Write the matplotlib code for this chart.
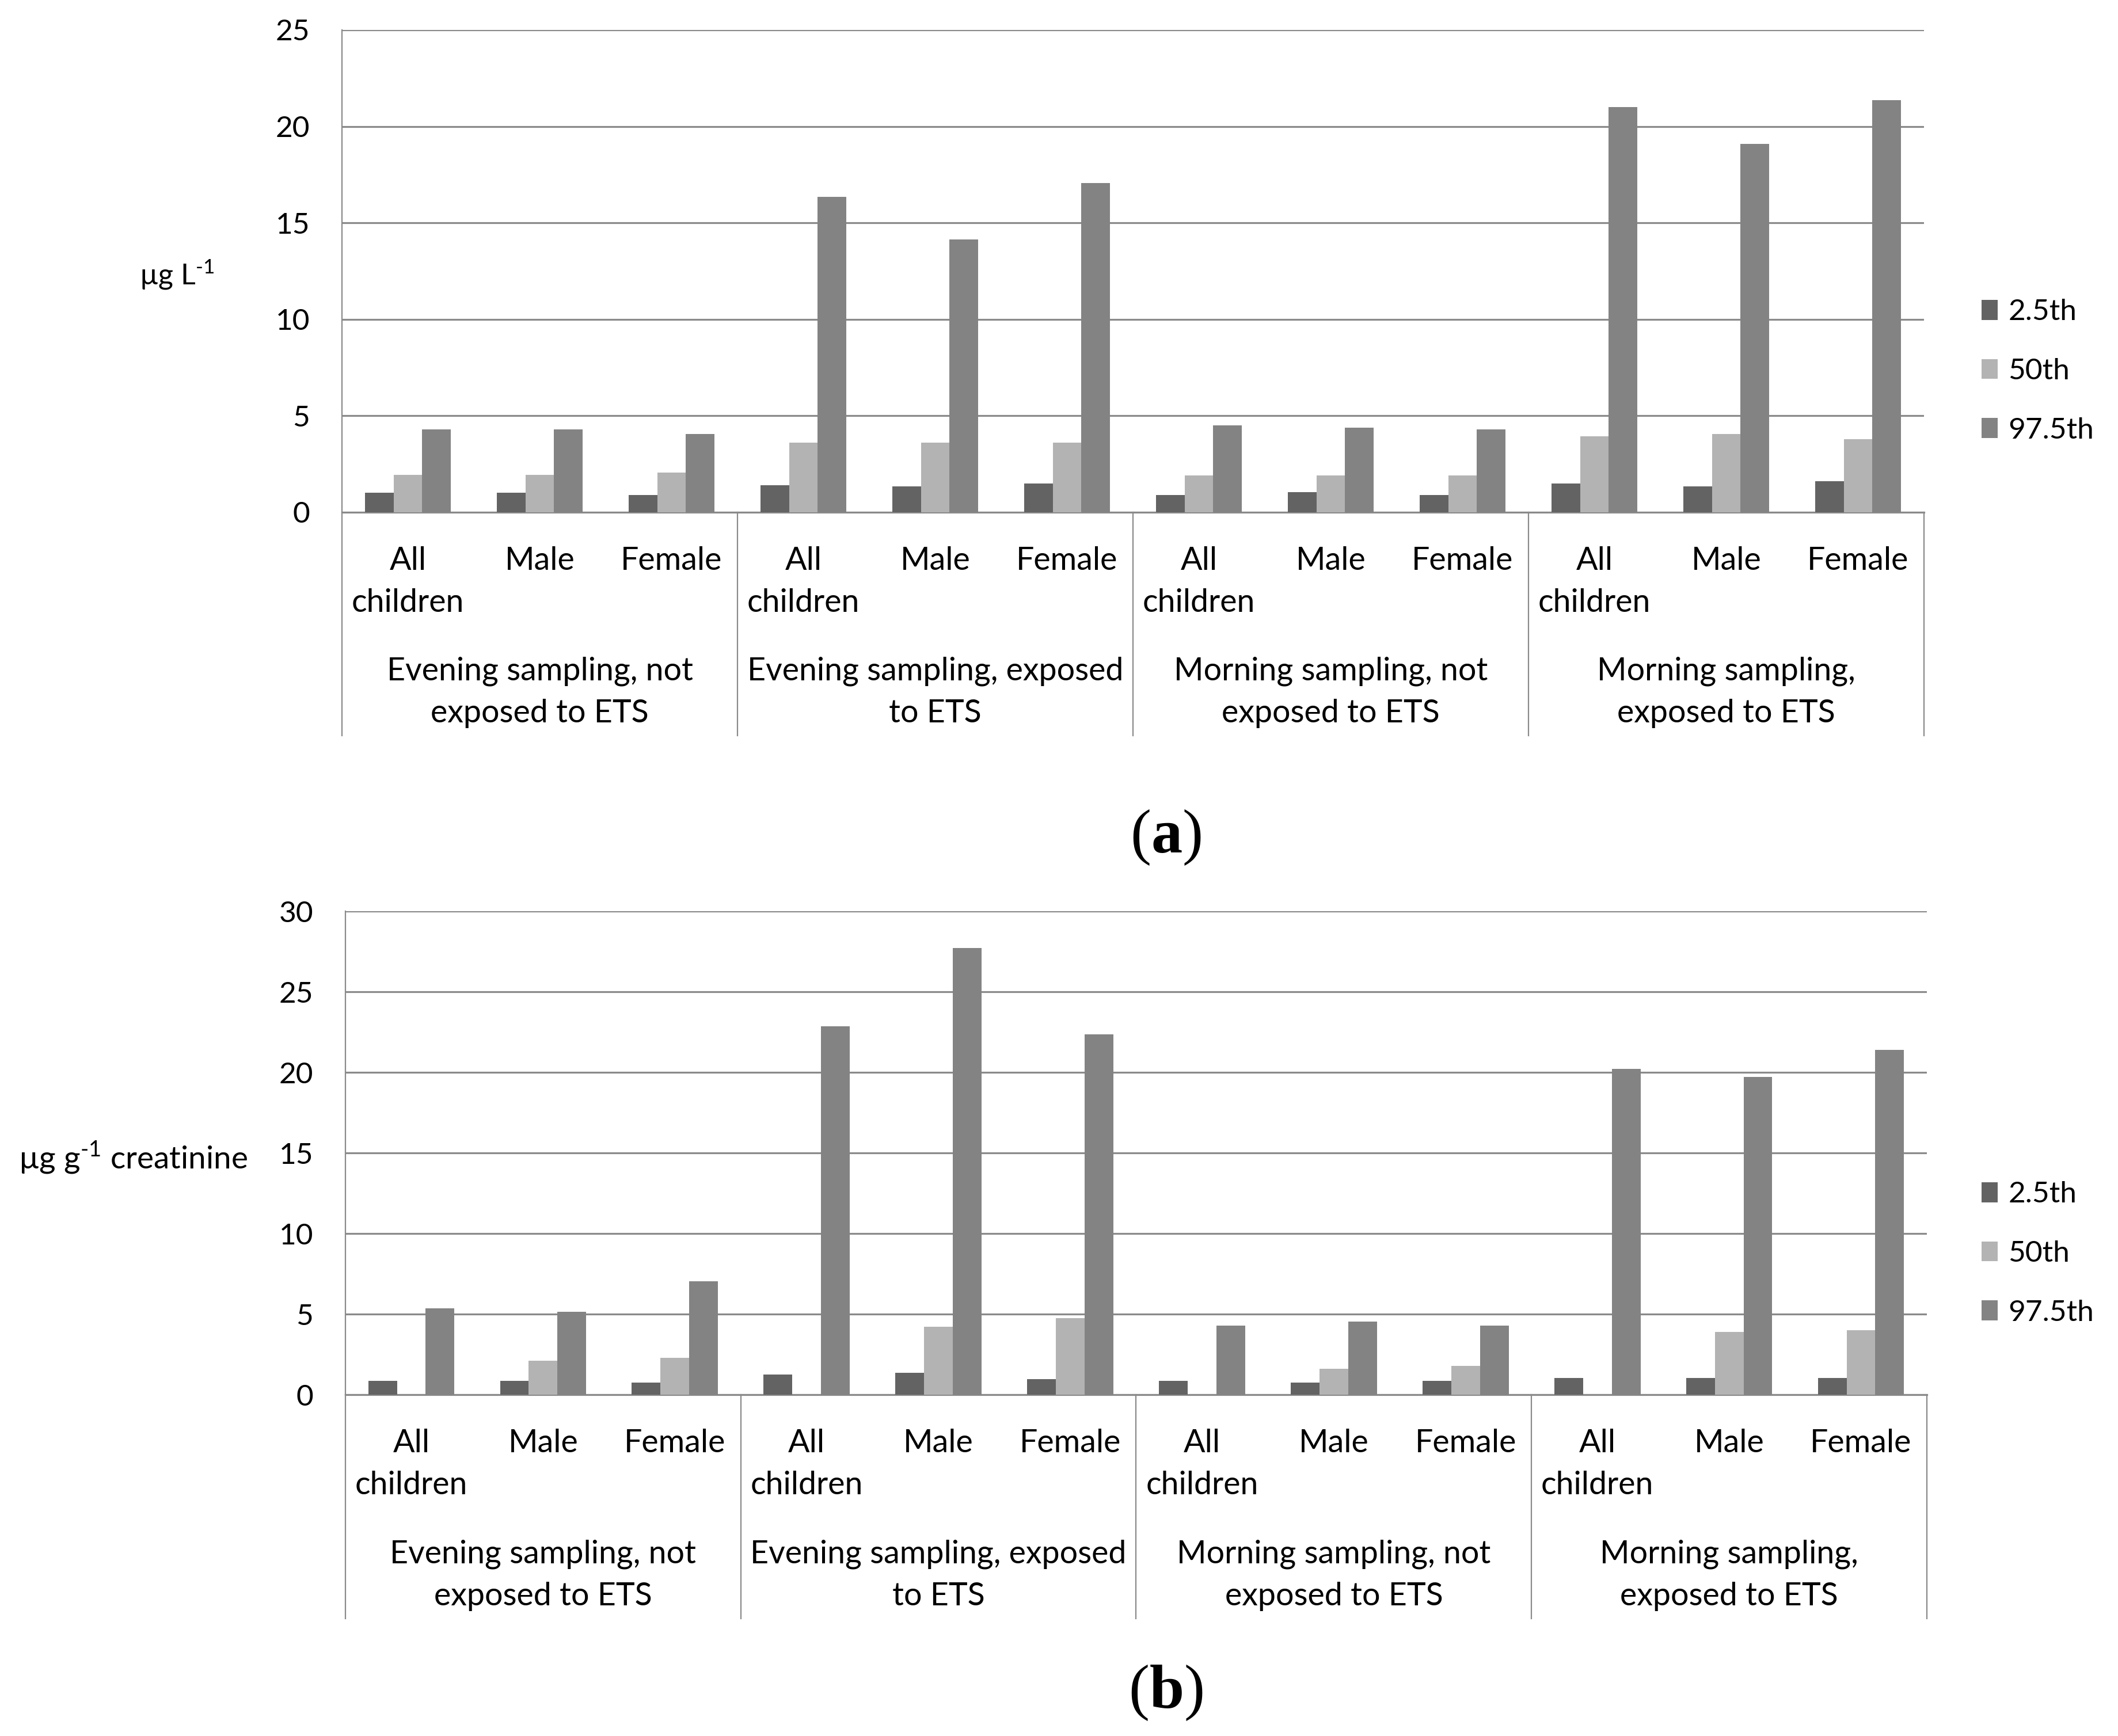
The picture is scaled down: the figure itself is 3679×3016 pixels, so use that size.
import numpy as np
import matplotlib
matplotlib.use('Agg')
import matplotlib.pyplot as plt

plt.rcParams['font.family'] = ['Lato', 'DejaVu Sans']
plt.rcParams['mathtext.fontset'] = 'custom'
plt.rcParams['mathtext.rm'] = 'Lato'
plt.rcParams['mathtext.bf'] = 'Liberation Serif:bold'

# categories
groups = [
    ('Evening sampling, not', 'exposed to ETS'),
    ('Evening sampling, exposed', 'to ETS'),
    ('Morning sampling, not', 'exposed to ETS'),
    ('Morning sampling,', 'exposed to ETS'),
]
subgroups = [('All', 'children'), ('Male',), ('Female',)]
series_names = ['2.5th', '50th', '97.5th']
series_colors = ['#636363', '#b3b3b3', '#838383']

# panel (a): ug/L
a_p025 = [1.0, 1.0, 0.9, 1.4, 1.35, 1.5, 0.9, 1.05, 0.9, 1.5, 1.35, 1.6]
a_p50 = [1.95, 1.95, 2.05, 3.6, 3.6, 3.6, 1.9, 1.9, 1.9, 3.95, 4.05, 3.8]
a_p975 = [4.3, 4.3, 4.05, 16.35, 14.15, 17.05, 4.5, 4.4, 4.3, 21.0, 19.1, 21.35]

# panel (b): ug/g creatinine (50th missing for "All children")
b_p025 = [0.85, 0.85, 0.75, 1.25, 1.35, 0.95, 0.85, 0.75, 0.85, 1.05, 1.05, 1.05]
b_p50 = [np.nan, 2.1, 2.3, np.nan, 4.2, 4.75, np.nan, 1.6, 1.8, np.nan, 3.9, 4.0]
b_p975 = [5.35, 5.15, 7.05, 22.85, 27.7, 22.35, 4.3, 4.55, 4.3, 20.2, 19.7, 21.4]

W, H = 3680, 3016
fig = plt.figure(figsize=(W / 100, H / 100), dpi=100)

GRID = '#8a8a8a'
FS = 37      # ticks and legend
FS_CAT = 40  # category labels
bw = 0.218


def draw_panel(rect, data, ymax, ylabel, ylabel_xy, ylabel_fs, legend_y, caption, caption_y):
    ax = fig.add_axes(rect)
    n = len(groups) * len(subgroups)
    x = np.arange(n)
    for i, (vals, name, col) in enumerate(zip(data, series_names, series_colors)):
        ax.bar(x + (i - 1) * bw, vals, width=bw, color=col, label=name, zorder=3)
    ax.set_xlim(-0.5, n - 0.5)
    ax.set_ylim(0, ymax)
    ax.set_yticks(np.arange(0, ymax + 1, 5))
    ax.yaxis.grid(True, color=GRID, linewidth=2.3, zorder=0)
    ax.set_axisbelow(True)
    ax.tick_params(axis='y', length=0, pad=40, labelsize=FS)
    ax.tick_params(axis='x', length=0, labelbottom=False)
    for s in ['top', 'right']:
        ax.spines[s].set_visible(False)
    ax.spines['left'].set_color(GRID)
    ax.spines['left'].set_linewidth(1.6)
    ax.spines['bottom'].set_color(GRID)
    ax.spines['bottom'].set_linewidth(2.3)

    # multi-level category axis
    tr = ax.get_xaxis_transform()
    nsub = len(subgroups)
    for k in range(len(groups) + 1):
        xb = k * nsub - 0.5
        ax.plot([xb, xb], [0, -0.463], transform=tr, color=GRID,
                linewidth=1.6, clip_on=False)
    for k, g in enumerate(groups):
        for j, s in enumerate(subgroups):
            xc = k * nsub + j
            for li, line in enumerate(s):
                ax.text(xc, [-0.1193, -0.2064][li], line, transform=tr,
                        ha='center', va='baseline', fontsize=FS_CAT)
        gc = k * nsub + (nsub - 1) / 2
        for li, line in enumerate(g):
            ax.text(gc, [-0.3484, -0.4356][li], line, transform=tr,
                    ha='center', va='baseline', fontsize=FS_CAT)

    fig.text(ylabel_xy[0], ylabel_xy[1], ylabel, ha='left', va='baseline',
             fontsize=ylabel_fs)
    ax.legend(loc='center left', bbox_to_anchor=(0.9353, legend_y),
              bbox_transform=fig.transFigure, frameon=False, fontsize=FS,
              handlelength=0.55, handleheight=0.65, handletextpad=0.35,
              labelspacing=1.1, borderpad=0, borderaxespad=0)
    fig.text(0.5503, caption_y, caption, ha='center', va='center', fontsize=78,
             family='Liberation Serif')
    return ax


draw_panel([594 / W, 1 - 890 / H, (3342 - 594) / W, (890 - 52) / H],
           [a_p025, a_p50, a_p975], 25, 'µg L$^{\\text{-1}}$',
           (242 / W, 1 - 495 / H), 36, 1 - 645 / H, '($\\mathbf{a}$)', 1 - 1455 / H)

draw_panel([600 / W, 1 - 2423 / H, (3347 - 600) / W, (2423 - 1583) / H],
           [b_p025, b_p50, b_p975], 30, 'µg g$^{\\text{-1}}$ creatinine',
           (32 / W, 1 - 2030 / H), 39.5, 1 - 2178 / H, '($\\mathbf{b}$)', 1 - 2941 / H)

fig.savefig('out.png', dpi=100, facecolor='white')
